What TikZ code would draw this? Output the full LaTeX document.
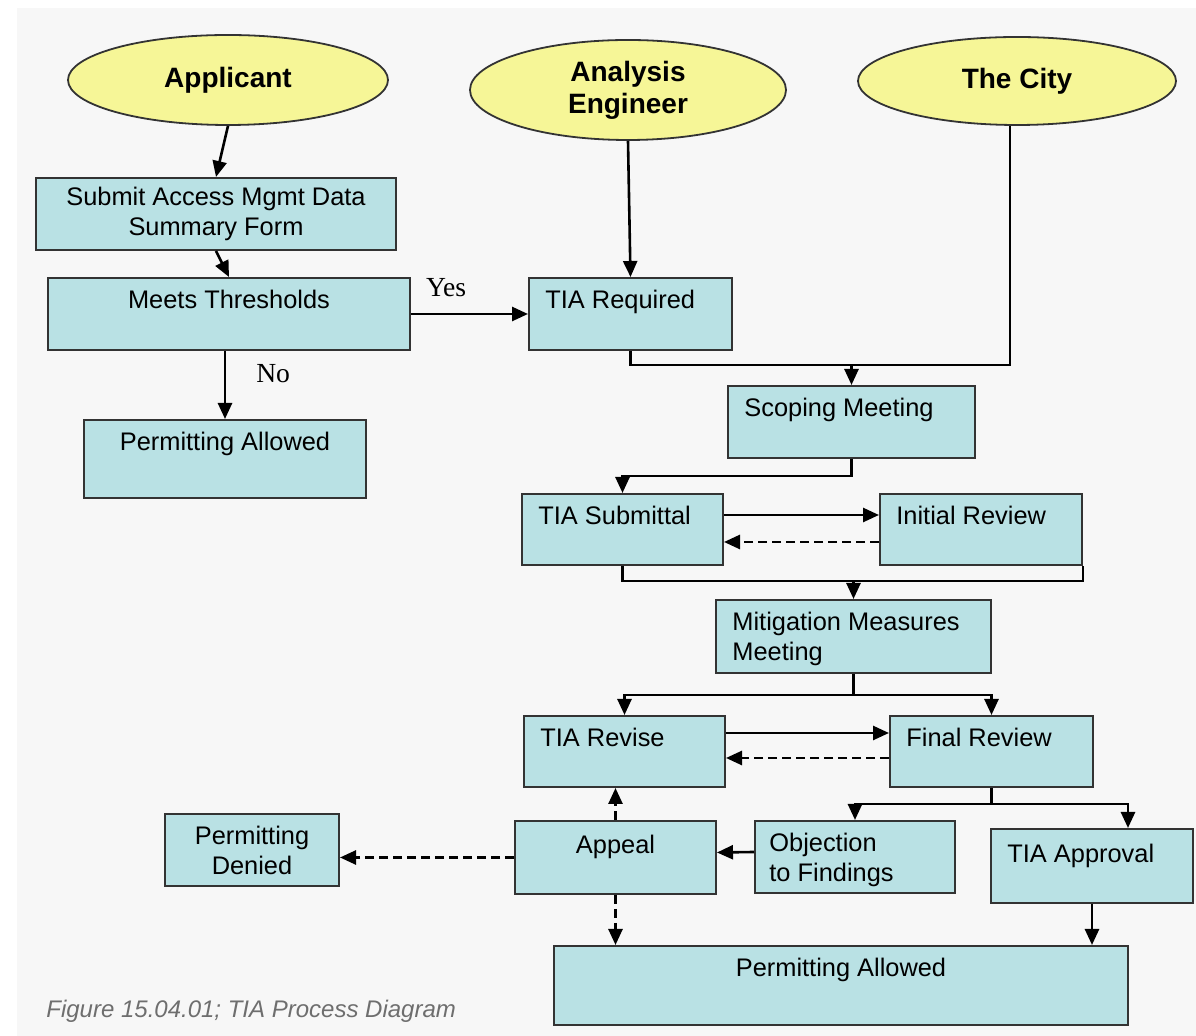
\documentclass[tikz,border=0pt]{standalone}
\usepackage{fontspec}
\setmainfont{Liberation Sans}
\newfontfamily\ynfont{Liberation Serif}
\usepackage{xcolor}
\usepackage{tikz}
\usetikzlibrary{positioning, shapes.geometric, arrows.meta, calc}

\definecolor{panelgray}{HTML}{F7F7F7}
\definecolor{boxcyan}{HTML}{B9E1E4}
\definecolor{roleyellow}{HTML}{F6F697}
\definecolor{edgegray}{HTML}{333333}
\definecolor{capgray}{HTML}{6E6E6E}

\begin{document}
\begin{tikzpicture}[x=0.5pt, y=-0.5pt,
        role/.style={ellipse, draw=edgegray, line width=0.9pt, fill=roleyellow, inner sep=0pt,
                     align=center, font={\fontsize{14}{16}\selectfont\bfseries}},
        box/.style={rectangle, draw=edgegray, line width=1pt, fill=boxcyan, inner sep=0pt,
                    align=center, font={\fontsize{12.7}{15}\selectfont}},
        ctxt/.style={anchor=base, yshift=-16pt, inner sep=0pt, align=center,
                     font={\fontsize{12.7}{15}\selectfont}},
        ltxt/.style={anchor=base west, xshift=8.5pt, yshift=-16pt, inner sep=0pt, align=left,
                     font={\fontsize{12.7}{15}\selectfont}},
        line/.style={draw=black, line width=1.3pt},
        arr/.style={line, -{Triangle[length=8pt, width=7pt]}},
        darr/.style={arr, dash pattern=on 4.5pt off 2.5pt},
        yn/.style={inner sep=0pt, font={\ynfont\fontsize{13.8}{16}\selectfont}},
        caption/.style={inner sep=0pt, text=capgray, font={\fontsize{12}{14}\selectfont\itshape}}]

        % page and panel
        \fill[white] (0,0) rectangle (1196,1036);
        \fill[panelgray] (17,8) rectangle (1196,1036);
        \useasboundingbox (0,0) rectangle (1196,1036);

        % who takes part
        \node[role, minimum width=160pt, minimum height=45pt] (applicant) at (228,80) {Applicant};
        \node[role, minimum width=158pt, minimum height=50pt] (analysis) at (628,90) {Analysis\\Engineer};
        \node[role, minimum width=159pt, minimum height=44pt] (city) at (1017,81) {The City};

        % applicant side
        \node[box, minimum width=180pt, minimum height=36pt] (form) at (216,214) {Submit Access Mgmt Data\\Summary Form};
        \node[box, minimum width=181pt, minimum height=36pt, label={[ctxt]north:Meets Thresholds}] (meets) at (229,314) {};
        \node[box, minimum width=141pt, minimum height=39pt, label={[ctxt]north:Permitting Allowed}] (allowtop) at (225,459) {};

        % TIA steps
        \node[box, minimum width=101.5pt, minimum height=36pt, label={[ltxt]north west:TIA Required}] (tiareq) at (630.5,314) {};
        \node[box, minimum width=123.5pt, minimum height=36pt, label={[ltxt]north west:Scoping Meeting}] (scoping) at (851.5,422) {};
        \node[box, minimum width=100.5pt, minimum height=35.5pt, label={[ltxt]north west:TIA Submittal}] (submittal) at (622.5,529.5) {};
        \node[box, minimum width=101pt, minimum height=35.5pt, label={[ltxt]north west:Initial Review}] (initial) at (981,529.5) {};
        \node[box, minimum width=137.5pt, minimum height=36.5pt, label={[ltxt, yshift=-15pt]north west:{Mitigation Measures\\Meeting}}] (mitig) at (853.5,636.5) {};
        \node[box, minimum width=100.5pt, minimum height=35.5pt, label={[ltxt]north west:TIA Revise}] (revise) at (624.5,751.5) {};
        \node[box, minimum width=101.5pt, minimum height=35.5pt, label={[ltxt]north west:Final Review}] (final) at (991.5,751.5) {};

        % outcomes
        \node[box, minimum width=87pt, minimum height=36pt] (denied) at (252,850) {Permitting\\Denied};
        \node[box, minimum width=100.5pt, minimum height=36.5pt, label={[ctxt, yshift=-1pt]north:Appeal}] (appeal) at (615.5,857.5) {};
        \node[box, minimum width=100pt, minimum height=36pt, label={[ltxt, xshift=-1pt, yshift=-15pt]north west:{Objection\\to Findings}}] (objection) at (855,857) {};
        \node[box, minimum width=101pt, minimum height=37pt, label={[ltxt, yshift=-1.5pt]north west:TIA Approval}] (approval) at (1092,866) {};
        \node[box, minimum width=287pt, minimum height=39.5pt, label={[ctxt]north:Permitting Allowed}] (allowbot) at (841,985.5) {};

        % applicant flow
        \draw[arr] (applicant.south) -- (form.north);
        \draw[arr] (form.south) -- (meets.north);
        \draw[arr] (meets.east) -- node[yn, pos=0.3, above=8pt] {Yes} (tiareq.west);
        \draw[arr] (allowtop.north |- meets.south) -- node[yn, pos=0.33, right=15pt] {No} (allowtop.north);

        % into scoping
        \draw[arr] (analysis.south) -- (tiareq.north);
        \coordinate (m1) at ($(scoping.north)+(0,-20)$);
        \draw[line] (tiareq.south) |- (m1) -| ([xshift=-3.5pt]city.south);
        \draw[arr] (m1) -- (scoping.north);

        % submittal and review
        \draw[arr] (scoping.south) -- ++(0,17) -| (submittal.north);
        \draw[arr] ([yshift=7.25pt]submittal.east) -- ([yshift=7.25pt]initial.west);
        \draw[darr] ([yshift=-6.25pt]initial.west) -- ([yshift=-6.25pt]submittal.east);
        \coordinate (m2) at ($(mitig.north)+(0,-18)$);
        \draw[line] (submittal.south) |- (m2) -| (initial.south east);
        \draw[arr] (m2) -- (mitig.north);

        % revise and final review
        \draw[line] (mitig.south) -- ++(0,21) coordinate (m3);
        \draw[arr] (m3) -| (revise.north);
        \draw[arr] (m3) -| (final.north);
        \draw[arr] ([yshift=9.25pt]revise.east) -- ([yshift=9.25pt]final.west);
        \draw[darr] ([yshift=-3.25pt]final.west) -- ([yshift=-3.25pt]revise.east);

        % findings
        \draw[line] (final.south) -- ++(0,16) coordinate (m4);
        \draw[arr] (m4) -| (objection.north);
        \draw[arr] (m4) -| ([xshift=18pt]approval.north);
        \draw[arr] ([yshift=2.5pt]objection.west) -- ([yshift=2.5pt]appeal.east);
        \draw[darr] (appeal.west) -- (appeal.west -| denied.east);
        \draw[darr] (appeal.north) -- (appeal.north |- revise.south);
        \draw[darr] (appeal.south) -- (appeal.south |- allowbot.north);
        \draw[arr] (approval.south) -- (approval.south |- allowbot.north);

        \node[caption, anchor=base west] (cap) at (46,1018) {Figure 15.04.01; TIA Process Diagram};
      \end{tikzpicture}
\end{document}
